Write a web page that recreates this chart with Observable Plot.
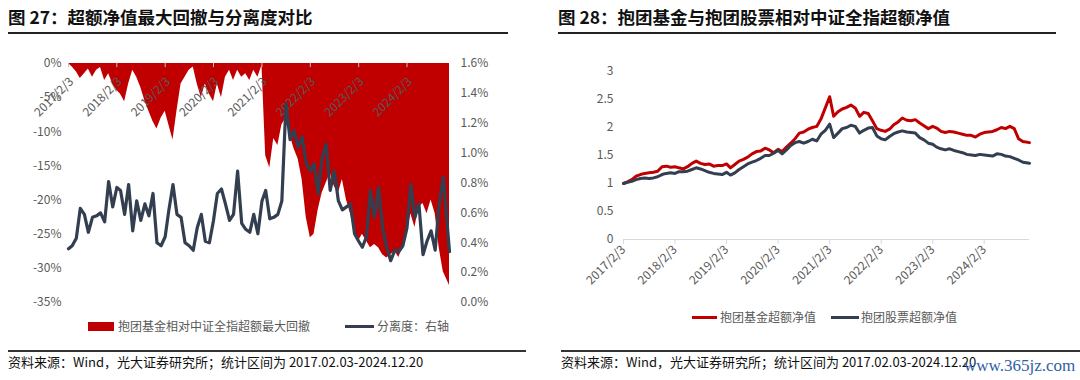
<!DOCTYPE html>
<html><head><meta charset="utf-8">
<script src="https://cdn.jsdelivr.net/npm/d3@7"></script>
<script src="https://cdn.jsdelivr.net/npm/@observablehq/plot@0.6"></script>
<style>
html,body{margin:0;padding:0;background:#fff;}
#wrap{position:relative;width:1080px;height:380px;overflow:hidden;font-family:"Noto Sans CJK SC","Noto Sans",sans-serif;}
.abs{position:absolute;}
.title{font-size:17.5px;font-weight:bold;color:#111;white-space:nowrap;line-height:1;}
.hr{height:0;border-top:2px solid #222;}
.hr2{height:0;border-top:2px solid #333;}
.foot{font-size:13px;color:#111;white-space:nowrap;line-height:1;}
.leg{font-size:12px;color:#595959;white-space:nowrap;line-height:1;}
</style></head>
<body><div id="wrap">
<div class="abs title" style="left:8px;top:8px;">图 27：超额净值最大回撤与分离度对比</div>
<div class="abs hr" style="left:8px;top:32px;width:500px;"></div>
<div class="abs title" style="left:558px;top:8px;">图 28：抱团基金与抱团股票相对中证全指超额净值</div>
<div class="abs hr" style="left:558px;top:32px;width:498px;"></div>
<div id="left1" class="abs" style="left:0;top:50px;"></div>
<div id="left2" class="abs" style="left:0;top:50px;"></div>
<div id="right1" class="abs" style="left:540px;top:50px;"></div>
<div class="abs" style="left:88px;top:322px;width:26px;height:9px;background:#C00000;"></div>
<div class="abs leg" style="left:118px;top:320px;">抱团基金相对中证全指超额最大回撤</div>
<div class="abs" style="left:345px;top:325px;width:29px;height:0;border-top:3px solid #333f50;"></div>
<div class="abs leg" style="left:377px;top:320px;">分离度：右轴</div>
<div class="abs" style="left:692px;top:316px;width:25px;height:0;border-top:3px solid #C00000;"></div>
<div class="abs leg" style="left:720px;top:311px;">抱团基金超额净值</div>
<div class="abs" style="left:831px;top:316px;width:28px;height:0;border-top:3px solid #333f50;"></div>
<div class="abs leg" style="left:861px;top:311px;">抱团股票超额净值</div>
<div class="abs hr2" style="left:8px;top:350px;width:518px;"></div>
<div class="abs hr2" style="left:561px;top:350px;width:519px;"></div>
<div class="abs foot" style="left:8px;top:355px;">资料来源：Wind，光大证券研究所；统计区间为 2017.02.03-2024.12.20</div>
<div class="abs foot" style="left:561px;top:355px;">资料来源：Wind，光大证券研究所；统计区间为 2017.02.03-2024.12.20</div>
<div class="abs" style="left:964px;top:357px;font-family:'Liberation Serif',serif;font-size:17px;color:#2f5fa8;white-space:nowrap;line-height:1;">www.365jz.com</div>
</div>
<script>
// ---- data ----
const startDate = "2017-02-03";
const endDate = "2024-12-20";
const yearTickDates = ["2017-02-03","2018-02-03","2019-02-03","2020-02-03","2021-02-03","2022-02-03","2023-02-03","2024-02-03"];
const yearTickLabels = ["2017/2/3","2018/2/3","2019/2/3","2020/2/3","2021/2/3","2022/2/3","2023/2/3","2024/2/3"];
const leftTicks = [0,-5,-10,-15,-20,-25,-30,-35];
const rightTicks = [0,0.2,0.4,0.6,0.8,1.0,1.2,1.4,1.6];
const navTicks = [0,0.5,1,1.5,2,2.5,3];
// monthly observations, Feb 2017 .. Dec 2024 (95 points)
const drawdown = [0,-0.5,-1.2,-2.2,-1.5,-0.8,-2.0,-1.0,-0.6,-2.5,-1.5,-3.0,
 -3.9,-4.5,-5.6,-3.0,-1.0,-2.0,-3.5,-5.5,-7.0,-8.5,-9.6,-8.0,
 -7.0,-9.0,-11.2,-7.0,-3.0,-2.0,-1.0,-0.5,-3.0,-5.0,-3.0,-4.5,
 -5.6,-3.0,-5.0,-2.0,-1.0,-2.5,-1.0,-2.0,-1.5,-2.5,-1.0,-2.0,
 -0.3,-13.5,-15.3,-11.0,-12.0,-9.0,-8.0,-10.5,-12.5,-14.0,-17.0,-22.5,
 -25.5,-25.0,-21.5,-19.0,-17.5,-16.0,-18.0,-19.0,-17.0,-20.0,-22.0,-24.5,
 -26.0,-25.0,-26.0,-27.0,-26.5,-27.0,-28.0,-28.5,-28.0,-27.5,-28.4,-27.0,
 -25.0,-22.0,-24.0,-21.0,-20.5,-22.0,-20.0,-22.0,-27.0,-30.5,-32.5];
const separation = [0.36,0.38,0.43,0.63,0.59,0.47,0.57,0.58,0.60,0.54,0.81,0.64,
 0.77,0.75,0.59,0.79,0.48,0.68,0.55,0.66,0.58,0.73,0.40,0.38,
 0.44,0.62,0.79,0.59,0.57,0.40,0.38,0.35,0.50,0.59,0.41,0.40,
 0.55,0.73,0.76,0.66,0.55,0.59,0.88,0.53,0.49,0.47,0.59,0.46,
 0.68,0.75,0.56,0.57,0.59,0.68,1.33,1.09,1.15,1.04,1.11,0.93,
 0.88,0.93,0.73,0.97,1.06,0.75,0.88,0.68,0.62,0.64,0.66,0.46,
 0.41,0.37,0.44,0.75,0.57,0.77,0.50,0.37,0.28,0.35,0.34,0.38,
 0.50,0.79,0.57,0.66,0.32,0.41,0.48,0.35,0.66,0.84,0.34];
const fundNav = [1.00,1.03,1.07,1.13,1.16,1.18,1.19,1.20,1.22,1.30,1.31,1.29,
 1.30,1.28,1.26,1.30,1.36,1.40,1.36,1.34,1.35,1.31,1.32,1.32,
 1.35,1.28,1.34,1.40,1.43,1.47,1.53,1.57,1.58,1.63,1.60,1.55,
 1.61,1.57,1.65,1.72,1.80,1.90,1.92,1.97,2.00,2.02,2.15,2.35,
 2.55,2.20,2.28,2.33,2.36,2.40,2.35,2.20,2.27,2.25,2.12,1.98,
 1.95,1.93,1.97,2.05,2.10,2.17,2.13,2.12,2.14,2.08,2.03,1.98,
 2.02,1.99,1.93,1.91,1.93,1.92,1.90,1.88,1.86,1.86,1.83,1.88,
 1.91,1.92,1.93,1.96,2.00,1.98,2.02,1.98,1.80,1.75,1.73];
const stockNav = [1.00,1.02,1.04,1.07,1.09,1.10,1.09,1.10,1.12,1.16,1.18,1.19,
 1.18,1.21,1.21,1.22,1.25,1.28,1.26,1.23,1.20,1.18,1.17,1.16,
 1.20,1.15,1.19,1.25,1.30,1.35,1.38,1.41,1.45,1.50,1.50,1.54,
 1.59,1.53,1.60,1.68,1.73,1.75,1.72,1.75,1.79,1.76,1.88,1.95,
 2.06,1.82,1.90,1.98,2.00,2.04,2.02,1.90,1.95,1.99,2.00,1.85,
 1.80,1.78,1.84,1.89,1.92,1.94,1.92,1.91,1.90,1.82,1.78,1.72,
 1.70,1.65,1.62,1.60,1.62,1.59,1.57,1.55,1.52,1.51,1.50,1.52,
 1.51,1.50,1.49,1.53,1.52,1.49,1.48,1.45,1.42,1.38,1.36];

// ---- build ----
const t0 = new Date(startDate), t1 = new Date(endDate);
const dates = drawdown.map((_, i) => i === drawdown.length - 1 ? t1 : d3.utcMonth.offset(t0, i));
const ddData = drawdown.map((v, i) => ({date: dates[i], v}));
const sepData = separation.map((v, i) => ({date: dates[i], v}));
const navData = [
  ...fundNav.map((v, i) => ({date: dates[i], v, s: "fund"})),
  ...stockNav.map((v, i) => ({date: dates[i], v, s: "stock"}))
];
const tickData = yearTickDates.map((d, i) => ({date: new Date(d), label: yearTickLabels[i]}));
const RED = "#C00000", NAVY = "#333f50", GREY = "#595959";
const font = {fontFamily: '"Noto Sans CJK SC","Noto Sans",sans-serif', fontSize: "12px", color: GREY, background: "transparent", overflow: "visible"};

const L = {width: 520, height: 270, marginLeft: 68, marginRight: 71, marginTop: 13, marginBottom: 18};

const left1 = Plot.plot({
  ...L, style: font,
  x: {type: "utc", domain: [t0, t1], axis: null},
  y: {domain: [-35, 0], axis: null},
  marks: [
    Plot.ruleY([0], {stroke: "#d9d9d9"}),
    Plot.areaY(ddData, {x: "date", y: "v", fill: RED}),
    Plot.ruleX(tickData, {x: "date", y1: 0, y2: -0.6, stroke: "#bfbfbf"}),
    Plot.axisY(leftTicks, {anchor: "left", label: null, tickSize: 0, tickPadding: 7, tickFormat: d => d + "%", fill: GREY}),
    Plot.text(tickData, {x: "date", y: 0, text: "label", rotate: -45, textAnchor: "end", dx: 3, dy: 16, fill: GREY, fontSize: 12})
  ]
});
document.getElementById("left1").appendChild(left1);

const left2 = Plot.plot({
  ...L, style: font,
  x: {type: "utc", domain: [t0, t1], axis: null},
  y: {domain: [0, 1.6], axis: null},
  marks: [
    Plot.axisY(rightTicks, {anchor: "right", label: null, tickSize: 0, tickPadding: 11, tickFormat: d => d.toFixed(1) + "%", fill: GREY}),
    Plot.lineY(sepData, {x: "date", y: "v", stroke: NAVY, strokeWidth: 3.2, strokeLinejoin: "round"})
  ]
});
document.getElementById("left2").appendChild(left2);

const right1 = Plot.plot({
  width: 540, height: 250, marginLeft: 83, marginRight: 51, marginTop: 21, marginBottom: 61,
  style: font,
  x: {type: "utc", domain: [t0, t1], axis: null},
  y: {domain: [0, 3], axis: null},
  color: {domain: ["fund", "stock"], range: [RED, NAVY]},
  marks: [
    Plot.ruleY([0], {stroke: "#d9d9d9"}),
    Plot.axisY(navTicks, {anchor: "left", label: null, tickSize: 0, tickPadding: 10, tickFormat: d => String(d), fill: GREY}),
    Plot.axisX(tickData.map(d => d.date), {anchor: "bottom", label: null, tickSize: 5, stroke: "#d9d9d9", tickRotate: -45, tickPadding: 3, tickFormat: d => yearTickLabels[yearTickDates.indexOf(d3.utcFormat("%Y-%m-%d")(d))], fill: GREY}),
    Plot.lineY(navData, {x: "date", y: "v", stroke: "s", z: "s", strokeWidth: 3, strokeLinejoin: "round"})
  ]
});
document.getElementById("right1").appendChild(right1);
</script>
</body></html>
